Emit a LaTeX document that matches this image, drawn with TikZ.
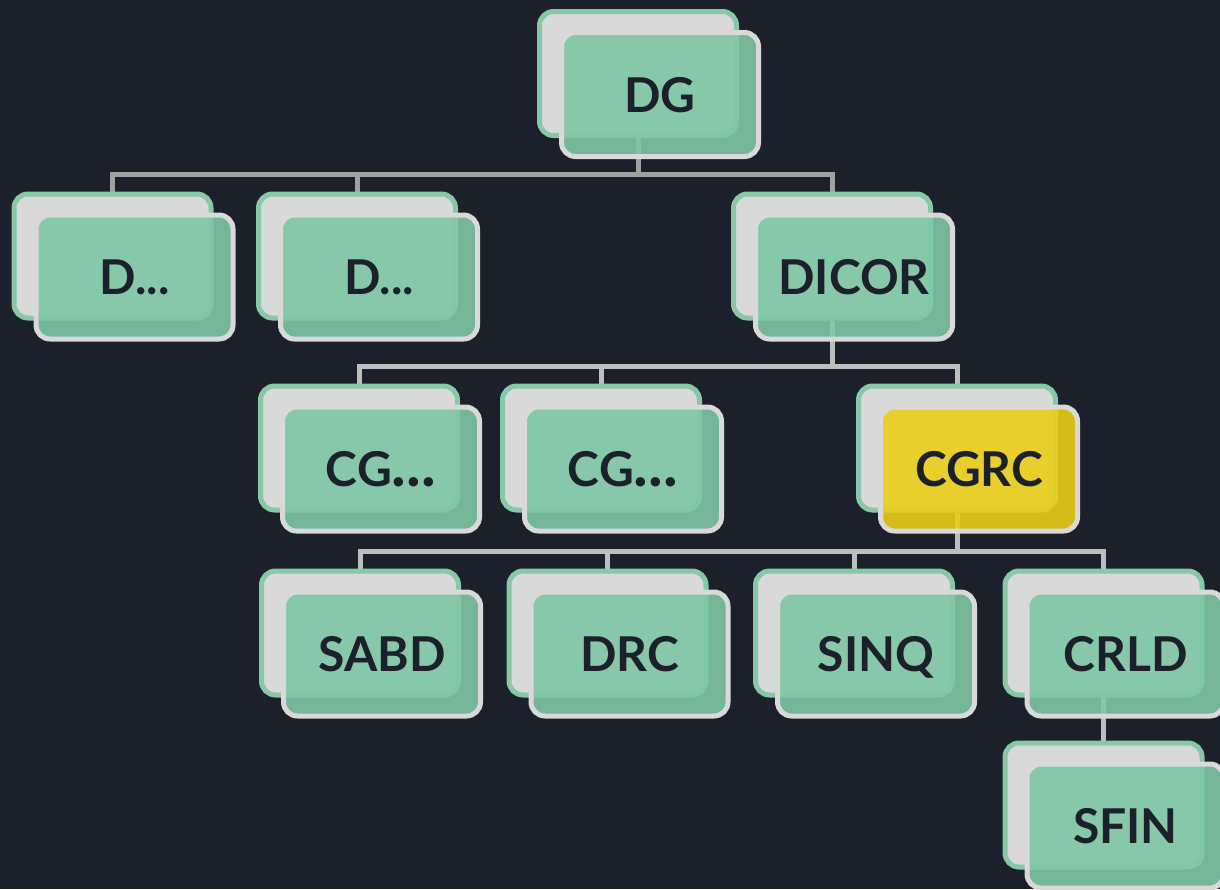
\documentclass[tikz,border=0pt]{standalone}
\usepackage{fontspec}
\setmainfont{Lato}
\usetikzlibrary{calc}

\definecolor{bgnavy}{HTML}{1C202B}
\definecolor{cardgreen}{HTML}{86C8A8}
\definecolor{facegreen}{RGB}{127,199,165}
\definecolor{faceyellow}{RGB}{235,206,25}
\definecolor{cardgray}{HTML}{D9D9D9}
\definecolor{wiregray}{HTML}{BEBEBE}
\definecolor{inkdark}{HTML}{1C202B}

\pgfdeclarelayer{bg}
\pgfdeclarelayer{wires}
\pgfsetlayers{bg,wires,main}

\begin{document}
\begin{tikzpicture}[x=0.5pt,y=-0.5pt,
    card/.style={draw=cardgreen,fill=cardgray,line width=2.5pt,rounded corners=7pt,
      minimum width=98.5pt,minimum height=62pt,inner sep=0pt},
    face/.style={draw=cardgray,fill=facegreen,fill opacity=0.9,text opacity=1,
      line width=2.5pt,rounded corners=7pt,minimum width=98.5pt,minimum height=62pt,
      inner sep=0pt,text=inkdark,text height=17.5pt,text depth=0pt,
      font=\fontsize{24}{27}\selectfont\bfseries},
    wire/.style={draw=wiregray,line width=2.5pt}]
            \useasboundingbox (0,0) rectangle (1220,889);
            \begin{pgfonlayer}{bg}
              \fill[bgnavy] (0,0) rectangle (1220,889);
            \end{pgfonlayer}
            % root
            \node[card] (DG) at (638,73.5) {};
            \node[face] (DGf) at ($(DG)+(22,21)$) {DG};
            % first row
            \node[card] (D1) at (112.5,256) {};
            \node[face] (D1f) at ($(D1)+(22,21)$) {D...};
            \node[card] (D2) at (357,256) {};
            \node[face] (D2f) at ($(D2)+(22,21)$) {D...};
            \node[card] (DICOR) at (832,256) {};
            \node[face] (DICORf) at ($(DICOR)+(22,21)$) {DICOR};
            % second row
            \node[card] (CG1) at (359,448) {};
            \node[face] (CG1f) at ($(CG1)+(22,21)$) {CG{\fontsize{31}{31}\selectfont...}};
            \node[card] (CG2) at (601,448) {};
            \node[face] (CG2f) at ($(CG2)+(22,21)$) {CG{\fontsize{31}{31}\selectfont...}};
            \node[card] (CGRC) at (957,448) {};
            \node[face,fill=faceyellow] (CGRCf) at ($(CGRC)+(22,21)$) {CGRC};
            % third row
            \node[card] (SABD) at (360,633) {};
            \node[face] (SABDf) at ($(SABD)+(22,21)$) {SABD};
            \node[card] (DRC) at (607.5,633) {};
            \node[face] (DRCf) at ($(DRC)+(22,21)$) {DRC};
            \node[card] (SINQ) at (854,633) {};
            \node[face] (SINQf) at ($(SINQ)+(22,21)$) {SINQ};
            \node[card] (CRLD) at (1103.5,633) {};
            \node[face] (CRLDf) at ($(CRLD)+(22,21)$) {CRLD};
            \node[card] (SFIN) at (1103.5,805) {};
            \node[face] (SFINf) at ($(SFIN)+(22,21)$) {SFIN};
            % links, under the cards
            \begin{pgfonlayer}{wires}
              \draw[wire,draw=wiregray!85!black] (DG.south) |- ($(D1.north)+(0,-17)$) -- (D1.north);
              \draw[wire,draw=wiregray!85!black] (DG.south) |- ($(D2.north)+(0,-17)$) -- (D2.north);
              \draw[wire,draw=wiregray!85!black] (DG.south) |- ($(DICOR.north)+(0,-17)$) -- (DICOR.north);
              \draw[wire] (DICOR.south) |- ($(CG1.north)+(0,-17)$) -- (CG1.north);
              \draw[wire] (DICOR.south) |- ($(CG2.north)+(0,-17)$) -- (CG2.north);
              \draw[wire] (DICOR.south) |- ($(CGRC.north)+(0,-17)$) -- (CGRC.north);
              \draw[wire] (CGRC.south) |- ($(SABD.north)+(0,-17)$) -- (SABD.north);
              \draw[wire] (CGRC.south) |- ($(DRC.north)+(0,-17)$) -- (DRC.north);
              \draw[wire] (CGRC.south) |- ($(SINQ.north)+(0,-17)$) -- (SINQ.north);
              \draw[wire] (CGRC.south) |- ($(CRLD.north)+(0,-17)$) -- (CRLD.north);
              \draw[wire] (CRLD.south) -- (SFIN.north);
            \end{pgfonlayer}
        \end{tikzpicture}
\end{document}
